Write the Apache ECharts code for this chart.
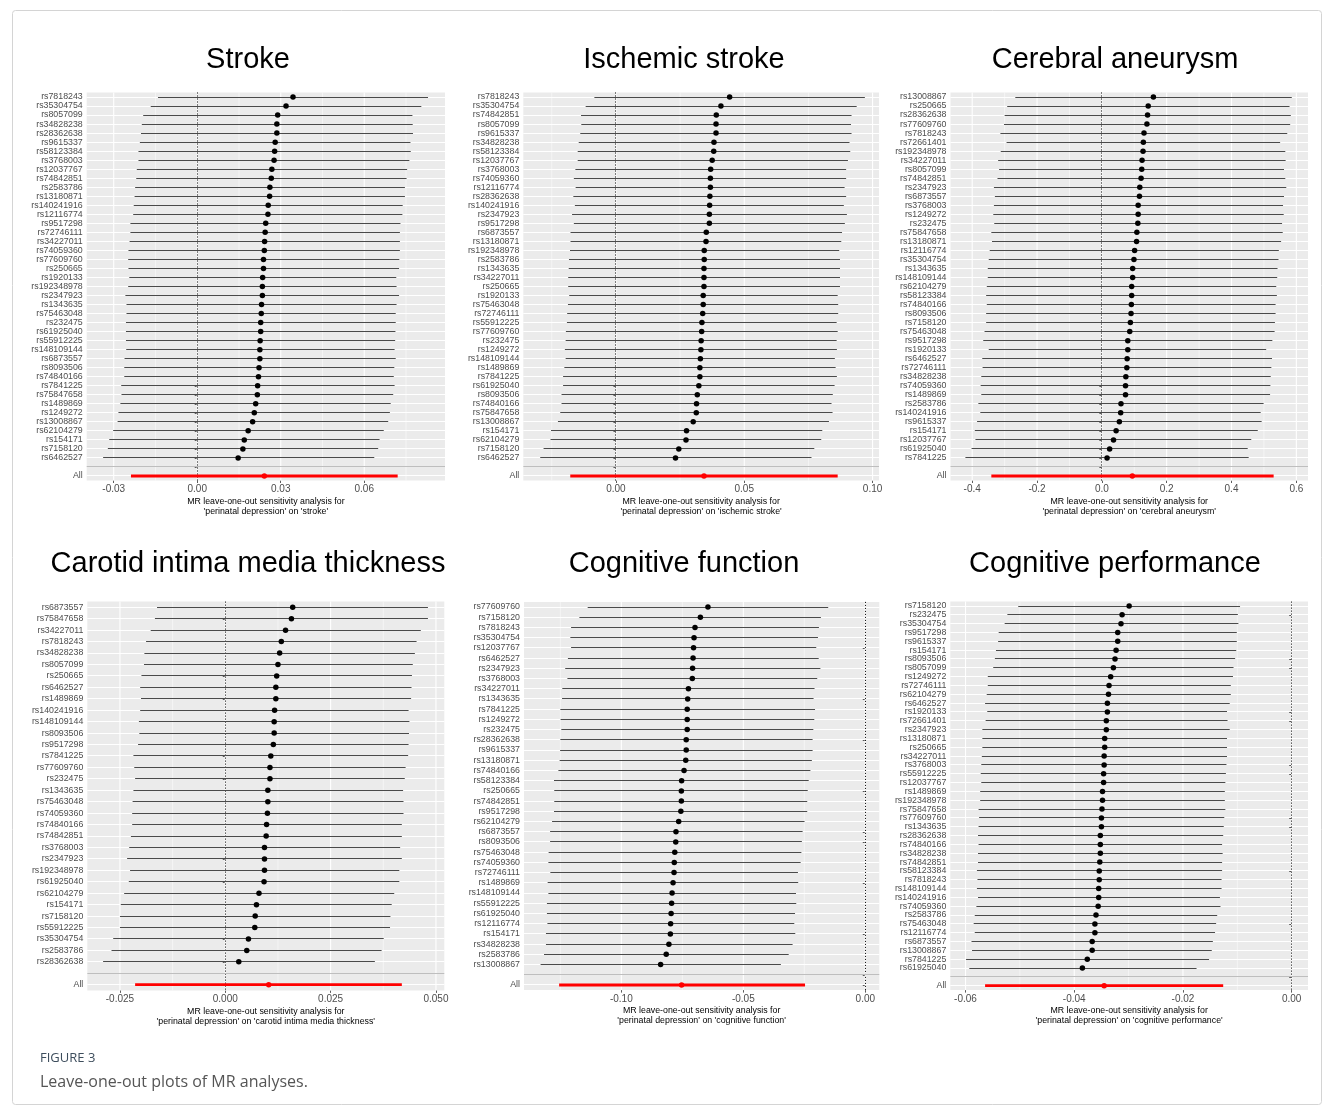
<!DOCTYPE html>
<html>
<head>
<meta charset="utf-8">
<script src="https://cdn.jsdelivr.net/npm/echarts@6/dist/echarts.min.js"></script>
<style>
  html, body { margin: 0; padding: 0; background: #fff; }
  #chart { width: 1333px; height: 1115px; }
</style>
</head>
<body>
<div id="chart"></div>
<script>
// ---- values: SNP order top to bottom, beta, lower, upper ----
const strokeSnps = ['rs7818243','rs35304754','rs8057099','rs34828238','rs28362638','rs9615337','rs58123384','rs3768003','rs12037767','rs74842851','rs2583786','rs13180871','rs140241916','rs12116774','rs9517298','rs72746111','rs34227011','rs74059360','rs77609760','rs250665','rs1920133','rs192348978','rs2347923','rs1343635','rs75463048','rs232475','rs61925040','rs55912225','rs148109144','rs6873557','rs8093506','rs74840166','rs7841225','rs75847658','rs1489869','rs1249272','rs13008867','rs62104279','rs154171','rs7158120','rs6462527']
const strokeB = [0.0344,0.0319,0.0289,0.0286,0.0286,0.0280,0.0278,0.0276,0.0268,0.0266,0.0261,0.0260,0.0255,0.0254,0.0246,0.0244,0.0242,0.0241,0.0238,0.0238,0.0235,0.0234,0.0234,0.0231,0.0230,0.0228,0.0228,0.0226,0.0225,0.0225,0.0222,0.0220,0.0217,0.0216,0.0210,0.0205,0.0199,0.0183,0.0169,0.0164,0.0147]
const strokeLo = [-0.0141,-0.0167,-0.0194,-0.0199,-0.0202,-0.0206,-0.0211,-0.0211,-0.0217,-0.0219,-0.0223,-0.0225,-0.0228,-0.0230,-0.0240,-0.0240,-0.0243,-0.0247,-0.0248,-0.0247,-0.0244,-0.0248,-0.0258,-0.0254,-0.0254,-0.0256,-0.0256,-0.0256,-0.0255,-0.0261,-0.0262,-0.0262,-0.0273,-0.0272,-0.0276,-0.0283,-0.0286,-0.0302,-0.0316,-0.0321,-0.0338]
const strokeHi = [0.0829,0.0805,0.0773,0.0774,0.0775,0.0766,0.0767,0.0762,0.0754,0.0752,0.0746,0.0746,0.0738,0.0737,0.0730,0.0728,0.0728,0.0728,0.0726,0.0725,0.0715,0.0716,0.0725,0.0716,0.0713,0.0713,0.0712,0.0711,0.0709,0.0713,0.0708,0.0706,0.0709,0.0704,0.0695,0.0692,0.0686,0.0670,0.0655,0.0650,0.0636]
const strokeAll = [0.0241, -0.0238, 0.0720]
const strokeTicks = [-0.03, 0, 0.03, 0.06]
const strokeTickLabels = ['-0.03', '0.00', '0.03', '0.06']
const strokeMinor = [-0.015, 0.015, 0.045, 0.075]

const ischSnps = ['rs7818243','rs35304754','rs74842851','rs8057099','rs9615337','rs34828238','rs58123384','rs12037767','rs3768003','rs74059360','rs12116774','rs28362638','rs140241916','rs2347923','rs9517298','rs6873557','rs13180871','rs192348978','rs2583786','rs1343635','rs34227011','rs250665','rs1920133','rs75463048','rs72746111','rs55912225','rs77609760','rs232475','rs1249272','rs148109144','rs1489869','rs7841225','rs61925040','rs8093506','rs74840166','rs75847658','rs13008867','rs154171','rs62104279','rs7158120','rs6462527']
const ischB = [0.0443,0.0409,0.0391,0.0390,0.0390,0.0382,0.0381,0.0375,0.0369,0.0368,0.0368,0.0366,0.0365,0.0364,0.0364,0.0352,0.0351,0.0344,0.0344,0.0343,0.0343,0.0343,0.0340,0.0340,0.0338,0.0335,0.0334,0.0332,0.0331,0.0329,0.0327,0.0327,0.0323,0.0317,0.0314,0.0313,0.0301,0.0275,0.0273,0.0245,0.0232]
const ischLo = [-0.0084,-0.0118,-0.0136,-0.0135,-0.0139,-0.0145,-0.0149,-0.0149,-0.0158,-0.0164,-0.0157,-0.0166,-0.0160,-0.0171,-0.0164,-0.0177,-0.0177,-0.0179,-0.0183,-0.0184,-0.0186,-0.0186,-0.0182,-0.0187,-0.0190,-0.0191,-0.0195,-0.0196,-0.0199,-0.0196,-0.0201,-0.0206,-0.0206,-0.0212,-0.0212,-0.0217,-0.0226,-0.0253,-0.0255,-0.0282,-0.0295]
const ischHi = [0.0970,0.0938,0.0918,0.0916,0.0918,0.0910,0.0913,0.0904,0.0897,0.0897,0.0891,0.0897,0.0888,0.0900,0.0892,0.0881,0.0878,0.0870,0.0873,0.0873,0.0873,0.0873,0.0864,0.0866,0.0866,0.0860,0.0864,0.0860,0.0861,0.0853,0.0856,0.0861,0.0852,0.0845,0.0840,0.0844,0.0830,0.0804,0.0800,0.0773,0.0762]
const ischAll = [0.0343, -0.0178, 0.0864]
const ischTicks = [0, 0.05, 0.10]
const ischTickLabels = ['0.00', '0.05', '0.10']
const ischMinor = [-0.025, 0.025, 0.075]

const aneuSnps = ['rs13008867','rs250665','rs28362638','rs77609760','rs7818243','rs72661401','rs192348978','rs34227011','rs8057099','rs74842851','rs2347923','rs6873557','rs3768003','rs1249272','rs232475','rs75847658','rs13180871','rs12116774','rs35304754','rs1343635','rs148109144','rs62104279','rs58123384','rs74840166','rs8093506','rs7158120','rs75463048','rs9517298','rs1920133','rs6462527','rs72746111','rs34828238','rs74059360','rs1489869','rs2583786','rs140241916','rs9615337','rs154171','rs12037767','rs61925040','rs7841225']
const aneuB = [0.159,0.143,0.141,0.139,0.130,0.128,0.127,0.124,0.123,0.121,0.117,0.116,0.112,0.112,0.111,0.108,0.107,0.101,0.099,0.095,0.095,0.092,0.092,0.091,0.090,0.088,0.086,0.080,0.080,0.078,0.077,0.074,0.073,0.073,0.059,0.058,0.054,0.044,0.036,0.024,0.016]
const aneuLo = [-0.267,-0.292,-0.300,-0.302,-0.313,-0.294,-0.312,-0.320,-0.317,-0.322,-0.333,-0.330,-0.333,-0.335,-0.332,-0.341,-0.339,-0.346,-0.349,-0.352,-0.352,-0.355,-0.357,-0.355,-0.357,-0.357,-0.362,-0.366,-0.349,-0.369,-0.368,-0.372,-0.374,-0.372,-0.381,-0.375,-0.385,-0.392,-0.390,-0.402,-0.421]
const aneuHi = [0.586,0.579,0.583,0.581,0.572,0.550,0.566,0.567,0.562,0.566,0.569,0.562,0.559,0.561,0.556,0.558,0.553,0.546,0.545,0.542,0.541,0.538,0.540,0.536,0.536,0.534,0.533,0.526,0.507,0.525,0.523,0.521,0.520,0.519,0.499,0.490,0.493,0.481,0.461,0.450,0.453]
const aneuAll = [0.094, -0.341, 0.530]
const aneuTicks = [-0.4, -0.2, 0, 0.2, 0.4, 0.6]
const aneuTickLabels = ['-0.4', '-0.2', '0.0', '0.2', '0.4', '0.6']
const aneuMinor = [-0.3, -0.1, 0.1, 0.3, 0.5]

const cimtSnps = ['rs6873557','rs75847658','rs34227011','rs7818243','rs34828238','rs8057099','rs250665','rs6462527','rs1489869','rs140241916','rs148109144','rs8093506','rs9517298','rs7841225','rs77609760','rs232475','rs1343635','rs75463048','rs74059360','rs74840166','rs74842851','rs3768003','rs2347923','rs192348978','rs61925040','rs62104279','rs154171','rs7158120','rs55912225','rs35304754','rs2583786','rs28362638']
const cimtB = [0.0160,0.0157,0.0143,0.0133,0.0129,0.0125,0.0122,0.0120,0.0120,0.0117,0.0116,0.0116,0.0114,0.0108,0.0106,0.0106,0.0101,0.0101,0.0100,0.0098,0.0097,0.0093,0.0093,0.0093,0.0092,0.0080,0.0074,0.0071,0.0070,0.0055,0.0051,0.0032]
const cimtLo = [-0.0162,-0.0167,-0.0177,-0.0188,-0.0192,-0.0193,-0.0199,-0.0202,-0.0200,-0.0202,-0.0205,-0.0204,-0.0207,-0.0218,-0.0216,-0.0214,-0.0218,-0.0220,-0.0221,-0.0221,-0.0224,-0.0228,-0.0233,-0.0226,-0.0229,-0.0240,-0.0248,-0.0250,-0.0250,-0.0266,-0.0270,-0.0290]
const cimtHi = [0.0481,0.0481,0.0464,0.0454,0.0450,0.0445,0.0443,0.0442,0.0441,0.0435,0.0437,0.0436,0.0435,0.0434,0.0428,0.0426,0.0422,0.0423,0.0423,0.0419,0.0419,0.0415,0.0419,0.0413,0.0413,0.0401,0.0395,0.0392,0.0391,0.0376,0.0371,0.0355]
const cimtAll = [0.0103, -0.0214, 0.0419]
const cimtTicks = [-0.025, 0, 0.025, 0.05]
const cimtTickLabels = ['-0.025', '0.000', '0.025', '0.050']
const cimtMinor = [-0.0125, 0.0125, 0.0375]

const cfSnps = ['rs77609760','rs7158120','rs7818243','rs35304754','rs12037767','rs6462527','rs2347923','rs3768003','rs34227011','rs1343635','rs7841225','rs1249272','rs232475','rs28362638','rs9615337','rs13180871','rs74840166','rs58123384','rs250665','rs74842851','rs9517298','rs62104279','rs6873557','rs8093506','rs75463048','rs74059360','rs72746111','rs1489869','rs148109144','rs55912225','rs61925040','rs12116774','rs154171','rs34828238','rs2583786','rs13008867']
const cfB = [-0.0645,-0.0676,-0.0698,-0.0702,-0.0704,-0.0706,-0.0708,-0.0709,-0.0725,-0.0728,-0.0730,-0.0730,-0.0730,-0.0734,-0.0734,-0.0736,-0.0743,-0.0753,-0.0754,-0.0754,-0.0756,-0.0765,-0.0776,-0.0777,-0.0781,-0.0783,-0.0784,-0.0788,-0.0792,-0.0794,-0.0796,-0.0798,-0.0799,-0.0805,-0.0816,-0.0839]
const cfLo = [-0.1138,-0.1172,-0.1206,-0.1209,-0.1206,-0.1219,-0.1230,-0.1221,-0.1242,-0.1243,-0.1250,-0.1249,-0.1246,-0.1250,-0.1251,-0.1253,-0.1258,-0.1276,-0.1275,-0.1275,-0.1276,-0.1284,-0.1292,-0.1292,-0.1298,-0.1299,-0.1291,-0.1302,-0.1299,-0.1305,-0.1305,-0.1303,-0.1309,-0.1309,-0.1317,-0.1331]
const cfHi = [-0.0152,-0.0182,-0.0190,-0.0194,-0.0201,-0.0191,-0.0184,-0.0197,-0.0208,-0.0212,-0.0206,-0.0209,-0.0213,-0.0216,-0.0216,-0.0219,-0.0225,-0.0232,-0.0236,-0.0238,-0.0238,-0.0249,-0.0257,-0.0260,-0.0262,-0.0265,-0.0276,-0.0275,-0.0284,-0.0283,-0.0288,-0.0291,-0.0287,-0.0298,-0.0314,-0.0346]
const cfAll = [-0.0753, -0.1255, -0.0247]
const cfTicks = [-0.10, -0.05, 0]
const cfTickLabels = ['-0.10', '-0.05', '0.00']
const cfMinor = [-0.125, -0.075, -0.025]

const cpSnps = ['rs7158120','rs232475','rs35304754','rs9517298','rs9615337','rs154171','rs8093506','rs8057099','rs1249272','rs72746111','rs62104279','rs6462527','rs1920133','rs72661401','rs2347923','rs13180871','rs250665','rs34227011','rs3768003','rs55912225','rs12037767','rs1489869','rs192348978','rs75847658','rs77609760','rs1343635','rs28362638','rs74840166','rs34828238','rs74842851','rs58123384','rs7818243','rs148109144','rs140241916','rs74059360','rs2583786','rs75463048','rs12116774','rs6873557','rs13008867','rs7841225','rs61925040']
const cpB = [-0.0299,-0.0312,-0.0314,-0.0320,-0.0320,-0.0323,-0.0325,-0.0328,-0.0333,-0.0336,-0.0337,-0.0339,-0.0339,-0.0341,-0.0341,-0.0344,-0.0344,-0.0345,-0.0345,-0.0346,-0.0346,-0.0348,-0.0348,-0.0349,-0.0350,-0.0350,-0.0352,-0.0352,-0.0352,-0.0353,-0.0354,-0.0354,-0.0355,-0.0355,-0.0356,-0.0360,-0.0362,-0.0362,-0.0367,-0.0367,-0.0376,-0.0385]
const cpLo = [-0.0503,-0.0523,-0.0528,-0.0539,-0.0540,-0.0544,-0.0546,-0.0549,-0.0559,-0.0559,-0.0561,-0.0564,-0.0560,-0.0563,-0.0569,-0.0569,-0.0569,-0.0570,-0.0571,-0.0572,-0.0571,-0.0573,-0.0573,-0.0576,-0.0575,-0.0576,-0.0577,-0.0576,-0.0577,-0.0577,-0.0579,-0.0578,-0.0579,-0.0577,-0.0580,-0.0583,-0.0585,-0.0583,-0.0589,-0.0588,-0.0599,-0.0593]
const cpHi = [-0.0095,-0.0099,-0.0098,-0.0101,-0.0101,-0.0102,-0.0104,-0.0107,-0.0108,-0.0112,-0.0112,-0.0114,-0.0119,-0.0118,-0.0114,-0.0119,-0.0119,-0.0119,-0.0120,-0.0121,-0.0122,-0.0123,-0.0123,-0.0122,-0.0124,-0.0125,-0.0126,-0.0128,-0.0127,-0.0128,-0.0128,-0.0129,-0.0129,-0.0132,-0.0131,-0.0137,-0.0139,-0.0141,-0.0145,-0.0147,-0.0152,-0.0175]
const cpAll = [-0.0345, -0.0564, -0.0126]
const cpTicks = [-0.06, -0.04, -0.02, 0]
const cpTickLabels = ['-0.06', '-0.04', '-0.02', '0.00']
const cpMinor = [-0.05, -0.03, -0.01]

const panels = [
  { title: 'Stroke', outcome: 'stroke', snps: strokeSnps, b: strokeB, lo: strokeLo, hi: strokeHi, all: strokeAll, ticks: strokeTicks, tickLabels: strokeTickLabels, minor: strokeMinor },
  { title: 'Ischemic stroke', outcome: 'ischemic stroke', snps: ischSnps, b: ischB, lo: ischLo, hi: ischHi, all: ischAll, ticks: ischTicks, tickLabels: ischTickLabels, minor: ischMinor },
  { title: 'Cerebral aneurysm', outcome: 'cerebral aneurysm', snps: aneuSnps, b: aneuB, lo: aneuLo, hi: aneuHi, all: aneuAll, ticks: aneuTicks, tickLabels: aneuTickLabels, minor: aneuMinor },
  { title: 'Carotid intima media thickness', outcome: 'carotid intima media thickness', snps: cimtSnps, b: cimtB, lo: cimtLo, hi: cimtHi, all: cimtAll, ticks: cimtTicks, tickLabels: cimtTickLabels, minor: cimtMinor },
  { title: 'Cognitive function', outcome: 'cognitive function', snps: cfSnps, b: cfB, lo: cfLo, hi: cfHi, all: cfAll, ticks: cfTicks, tickLabels: cfTickLabels, minor: cfMinor },
  { title: 'Cognitive performance', outcome: 'cognitive performance', snps: cpSnps, b: cpB, lo: cpLo, hi: cpHi, all: cpAll, ticks: cpTicks, tickLabels: cpTickLabels, minor: cpMinor }
]

// panel geometry and x ranges
const layouts = [
  { left: 86.7, top: 92.5, width: 358.3, height: 388, xMin: -0.0397, xMax: 0.089, titleX: 248, titleY: 60 },
  { left: 523.3, top: 92.5, width: 355.7, height: 388, xMin: -0.0361, xMax: 0.1025, titleX: 684, titleY: 60 },
  { left: 950.5, top: 92.5, width: 357.5, height: 388, xMin: -0.467, xMax: 0.636, titleX: 1115, titleY: 60 },
  { left: 87.3, top: 601.6, width: 357, height: 388.8, xMin: -0.03275, xMax: 0.05198, titleX: 248, titleY: 564 },
  { left: 524, top: 601.9, width: 355.3, height: 388.2, xMin: -0.1399, xMax: 0.00574, titleX: 684, titleY: 564 },
  { left: 950.3, top: 601.6, width: 357.7, height: 388.5, xMin: -0.0628, xMax: 0.003, titleX: 1115, titleY: 564 }
]

const FONT = '"Liberation Sans", Arial, sans-serif'
const crisp = v => Math.round(v - 0.5) + 0.5
const chart = echarts.init(document.getElementById('chart'))

const grids = [], xAxes = [], yAxes = [], series = [], graphics = []

panels.forEach((p, k) => {
  const L = layouts[k]
  const n = p.snps.length
  const cats = [...p.snps, '', 'All']

  grids.push({ left: L.left, top: L.top, width: L.width, height: L.height, show: true, backgroundColor: '#ebebeb', borderWidth: 0 })

  xAxes.push({
    gridIndex: k, type: 'value', min: L.xMin, max: L.xMax,
    axisLine: { show: false },
    axisTick: { show: true, customValues: p.ticks, length: 2.5, lineStyle: { color: '#333', width: 0.8 } },
    axisLabel: {
      customValues: p.ticks, fontSize: 10, color: '#4d4d4d', margin: 4, fontFamily: FONT,
      formatter: v => {
        let best = 0
        p.ticks.forEach((t, i) => { if (Math.abs(t - v) < Math.abs(p.ticks[best] - v)) best = i })
        return p.tickLabels[best]
      }
    },
    splitLine: { show: false },
    name: "MR leave-one-out sensitivity analysis for\n'perinatal depression' on '" + p.outcome + "'",
    nameLocation: 'middle', nameGap: 16,
    nameTextStyle: { fontSize: 8.8, lineHeight: 9.8, color: '#000', fontFamily: FONT }
  })

  yAxes.push({
    gridIndex: k, type: 'category', data: cats, inverse: true,
    axisLine: { show: false },
    axisTick: { show: true, alignWithLabel: true, length: 2.5, lineStyle: { color: '#333', width: 0.8 } },
    axisLabel: { interval: 0, fontSize: 8.8, color: '#4d4d4d', margin: 4, fontFamily: FONT },
    splitLine: { show: false }
  })

  // white gridlines: one per row, plus major/minor verticals
  series.push({
    type: 'custom', xAxisIndex: k, yAxisIndex: k, z: 1, silent: true,
    data: cats.map((c, i) => [0, i]), encode: { x: 0, y: 1 },
    renderItem: (params, api) => {
      const cs = params.coordSys
      const y = crisp(api.coord([0, api.value(1)])[1])
      return { type: 'line', shape: { x1: cs.x, y1: y, x2: cs.x + cs.width, y2: y }, style: { stroke: '#fff', lineWidth: 1 } }
    }
  })
  series.push({
    type: 'custom', xAxisIndex: k, yAxisIndex: k, z: 1, silent: true,
    data: [...p.minor.map(v => [v, 0, 0]), ...p.ticks.map(v => [v, 0, 1])], encode: { x: 0, y: 1 },
    renderItem: (params, api) => {
      const cs = params.coordSys
      const x = api.coord([api.value(0), 0])[0]
      return { type: 'line', shape: { x1: x, y1: cs.y, x2: x, y2: cs.y + cs.height }, style: { stroke: '#fff', lineWidth: api.value(2) ? 1.1 : 0.5 } }
    }
  })
  // dotted line at zero
  series.push({
    type: 'custom', xAxisIndex: k, yAxisIndex: k, z: 2, silent: true,
    data: [[0, 0]], encode: { x: 0, y: 1 },
    renderItem: (params, api) => {
      const cs = params.coordSys
      const x = crisp(api.coord([0, 0])[0])
      return { type: 'line', shape: { x1: x, y1: cs.y, x2: x, y2: cs.y + cs.height }, style: { stroke: '#000', lineWidth: 1, lineDash: [1, 2] } }
    }
  })
  // confidence intervals
  series.push({
    type: 'custom', xAxisIndex: k, yAxisIndex: k, z: 3, silent: true,
    data: [...p.snps.map((s, i) => [p.lo[i], p.hi[i], i]), [p.all[1], p.all[2], n + 1]],
    encode: { x: [0, 1], y: 2 },
    renderItem: (params, api) => {
      const a = api.coord([api.value(0), api.value(2)])
      const b = api.coord([api.value(1), api.value(2)])
      const isAll = api.value(2) === n + 1
      const y = isAll ? a[1] : crisp(a[1])
      return { type: 'line', shape: { x1: a[0], y1: y, x2: b[0], y2: y },
        style: { stroke: isAll ? '#ff0000' : '#4a4a4a', lineWidth: isAll ? 2.8 : 1 } }
    }
  })
  // point estimates
  series.push({
    type: 'scatter', xAxisIndex: k, yAxisIndex: k, z: 4, silent: true,
    symbolSize: 5.5, itemStyle: { color: '#000', opacity: 1 },
    data: [...p.b.map((v, i) => [v, i]), { value: [p.all[0], n + 1], itemStyle: { color: '#ff0000' } }]
  })
  // grey separator on the blank row
  series.push({
    type: 'custom', xAxisIndex: k, yAxisIndex: k, z: 5, silent: true,
    data: [[0, n]], encode: { x: 0, y: 1 },
    renderItem: (params, api) => {
      const cs = params.coordSys
      const y = crisp(api.coord([0, api.value(1)])[1])
      return { type: 'line', shape: { x1: cs.x, y1: y, x2: cs.x + cs.width, y2: y }, style: { stroke: '#bebebe', lineWidth: 1 } }
    }
  })

  graphics.push({
    type: 'text', x: L.titleX, y: L.titleY,
    style: { text: p.title, fontSize: 29, fontFamily: FONT, fill: '#000', align: 'center', verticalAlign: 'middle' }
  })
})

graphics.push({ type: 'rect', shape: { x: 12.5, y: 10.5, width: 1309, height: 1094, r: 3 }, style: { fill: 'none', stroke: '#d4d4d4', lineWidth: 1 }, z: -1 })
graphics.push({ type: 'text', x: 40, y: 1058, style: { text: 'FIGURE 3', fontSize: 13, fontFamily: '"Open Sans", "Noto Sans", sans-serif', fill: '#3d4d5c', verticalAlign: 'middle' } })
graphics.push({ type: 'text', x: 40, y: 1082, style: { text: 'Leave-one-out plots of MR analyses.', fontSize: 16, fontFamily: '"Open Sans", "Noto Sans", sans-serif', fill: '#555', verticalAlign: 'middle' } })

chart.setOption({
  animation: false,
  backgroundColor: '#fff',
  grid: grids,
  xAxis: xAxes,
  yAxis: yAxes,
  series: series,
  graphic: graphics
})
</script>
</body>
</html>
